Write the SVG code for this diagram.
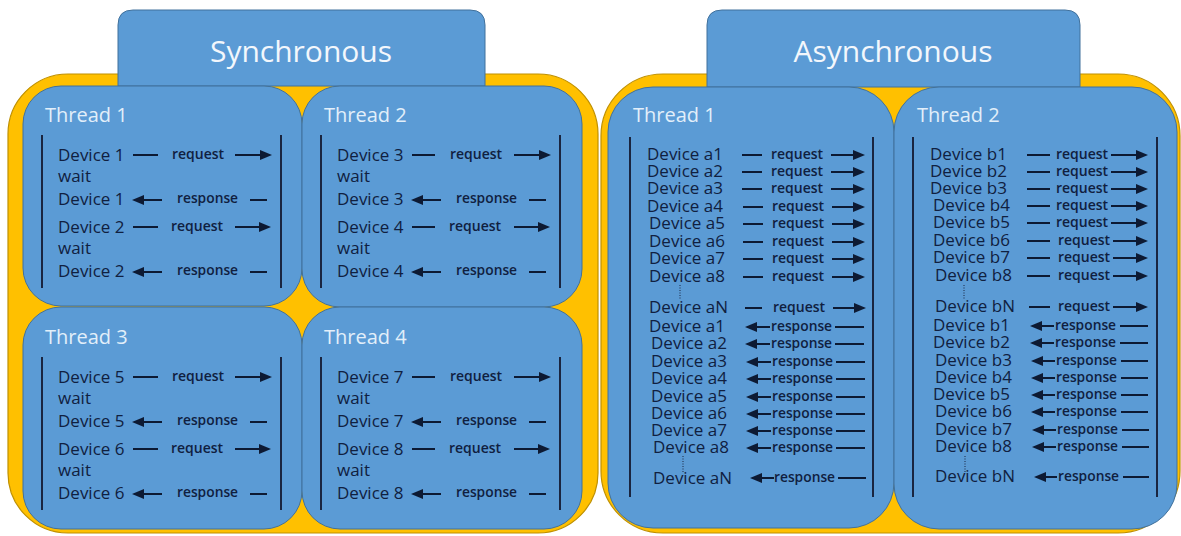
<svg xmlns="http://www.w3.org/2000/svg" width="1181" height="536" viewBox="0 0 1181 536">
<defs>
<marker id="ah" markerUnits="userSpaceOnUse" markerWidth="13" markerHeight="11" refX="1" refY="5" orient="auto">
<path d="M0,0 L12,5 L0,10 Z" fill="#0d1a33"/>
</marker>
<style>
text{font-family:'Open Sans','Liberation Sans',sans-serif}
.orange{fill:#ffc000;stroke:#bf9000;stroke-width:1.2}
.blue{fill:#5b9bd5;stroke:#41719c;stroke-width:1}
.title{font-size:30px;fill:#f3f7fc;text-anchor:middle}
.th{font-size:20px;fill:#e2effa}
.dev{font-size:17px;fill:#102040}
.rq{font-size:14px;font-weight:600;fill:#102040}
.rs{font-size:13.8px;font-weight:600;fill:#102040}
.ln{stroke:#0d1a33;stroke-width:2}
.arr{stroke:#0d1a33;stroke-width:2;marker-end:url(#ah)}
.vl{stroke:#1a2540;stroke-width:2}
.dot{stroke:#1a2540;stroke-width:1;stroke-dasharray:1 1.5}
</style>
</defs>
<rect width="1181" height="536" fill="#ffffff"/>

<g id="sync-panel">
<rect class="orange" x="8" y="74" width="590" height="459" rx="60"/>
</g>
<g id="sync-title">
<path class="blue" d="M118,86 V25 Q118,10 133,10 H470 Q485,10 485,25 V86 Z"/>
<text class="title" x="301" y="62">Synchronous</text>
</g>

<g id="sync-thread1">
<rect class="blue" x="23" y="86" width="279" height="220" rx="38"/>
<text class="th" x="45" y="122">Thread 1</text>
<line class="vl" x1="42" y1="135" x2="42" y2="288"/>
<line class="vl" x1="281" y1="135" x2="281" y2="288"/>
<text class="dev" x="58" y="161">Device 1</text>
<text class="rq" x="172" y="159">request</text>
<text class="dev" x="58" y="182">wait</text>
<text class="dev" x="58" y="205">Device 1</text>
<text class="rs" x="177" y="203">response</text>
<text class="dev" x="58" y="233">Device 2</text>
<text class="rq" x="171" y="231">request</text>
<text class="dev" x="58" y="254">wait</text>
<text class="dev" x="58" y="277">Device 2</text>
<text class="rs" x="177" y="275">response</text>
</g>

<g id="sync-thread2">
<rect class="blue" x="302" y="86" width="280" height="221" rx="38"/>
<text class="th" x="324" y="122">Thread 2</text>
<line class="vl" x1="321" y1="135" x2="321" y2="288"/>
<line class="vl" x1="560" y1="135" x2="560" y2="288"/>
<text class="dev" x="337" y="161">Device 3</text>
<text class="rq" x="450" y="159">request</text>
<text class="dev" x="337" y="182">wait</text>
<text class="dev" x="337" y="205">Device 3</text>
<text class="rs" x="456" y="203">response</text>
<text class="dev" x="337" y="233">Device 4</text>
<text class="rq" x="449" y="231">request</text>
<text class="dev" x="337" y="254">wait</text>
<text class="dev" x="337" y="277">Device 4</text>
<text class="rs" x="456" y="275">response</text>
</g>

<g id="sync-thread3">
<rect class="blue" x="23" y="307" width="279" height="222" rx="38"/>
<text class="th" x="45" y="344">Thread 3</text>
<line class="vl" x1="42" y1="357" x2="42" y2="510"/>
<line class="vl" x1="281" y1="357" x2="281" y2="510"/>
<text class="dev" x="58" y="383">Device 5</text>
<text class="rq" x="172" y="381">request</text>
<text class="dev" x="58" y="404">wait</text>
<text class="dev" x="58" y="427">Device 5</text>
<text class="rs" x="177" y="425">response</text>
<text class="dev" x="58" y="455">Device 6</text>
<text class="rq" x="171" y="453">request</text>
<text class="dev" x="58" y="476">wait</text>
<text class="dev" x="58" y="499">Device 6</text>
<text class="rs" x="177" y="497">response</text>
</g>

<g id="sync-thread4">
<rect class="blue" x="302" y="307" width="280" height="222" rx="38"/>
<text class="th" x="324" y="344">Thread 4</text>
<line class="vl" x1="321" y1="357" x2="321" y2="510"/>
<line class="vl" x1="560" y1="357" x2="560" y2="510"/>
<text class="dev" x="337" y="383">Device 7</text>
<text class="rq" x="450" y="381">request</text>
<text class="dev" x="337" y="404">wait</text>
<text class="dev" x="337" y="427">Device 7</text>
<text class="rs" x="456" y="425">response</text>
<text class="dev" x="337" y="455">Device 8</text>
<text class="rq" x="449" y="453">request</text>
<text class="dev" x="337" y="476">wait</text>
<text class="dev" x="337" y="499">Device 8</text>
<text class="rs" x="456" y="497">response</text>
</g>

<g id="async-panel">
<rect class="orange" x="601" y="74" width="579" height="459" rx="62"/>
</g>
<g id="async-title">
<path class="blue" d="M707,87 V25 Q707,10 722,10 H1065 Q1080,10 1080,25 V87 Z"/>
<text class="title" x="893" y="62">Asynchronous</text>
</g>

<g id="async-thread1">
<rect class="blue" x="608" y="87" width="286" height="441" rx="45"/>
<text class="th" x="633" y="122">Thread 1</text>
<line class="vl" x1="630" y1="137" x2="630" y2="497"/>
<line class="vl" x1="873" y1="137" x2="873" y2="497"/>
<text class="dev" x="647" y="160">Device a1</text>
<text class="dev" x="647" y="177">Device a2</text>
<text class="dev" x="647" y="194">Device a3</text>
<text class="dev" x="647" y="212">Device a4</text>
<text class="dev" x="649" y="229">Device a5</text>
<text class="dev" x="649" y="247">Device a6</text>
<text class="dev" x="649" y="264">Device a7</text>
<text class="dev" x="649" y="282">Device a8</text>
<text class="dev" x="649" y="313">Device aN</text>
<text class="rq" x="771" y="159">request</text>
<text class="rq" x="771" y="176">request</text>
<text class="rq" x="771" y="193">request</text>
<text class="rq" x="772" y="211">request</text>
<text class="rq" x="772" y="228">request</text>
<text class="rq" x="772" y="246">request</text>
<text class="rq" x="772" y="263">request</text>
<text class="rq" x="772" y="281">request</text>
<text class="rq" x="773" y="312">request</text>
<text class="dev" x="649" y="332">Device a1</text>
<text class="dev" x="651" y="349">Device a2</text>
<text class="dev" x="651" y="367">Device a3</text>
<text class="dev" x="651" y="384">Device a4</text>
<text class="dev" x="651" y="402">Device a5</text>
<text class="dev" x="651" y="419">Device a6</text>
<text class="dev" x="651" y="436">Device a7</text>
<text class="dev" x="653" y="453">Device a8</text>
<text class="dev" x="653" y="484">Device aN</text>
<text class="rs" x="771" y="331">response</text>
<text class="rs" x="771" y="348">response</text>
<text class="rs" x="772" y="366">response</text>
<text class="rs" x="772" y="383">response</text>
<text class="rs" x="772" y="401">response</text>
<text class="rs" x="772" y="418">response</text>
<text class="rs" x="772" y="435">response</text>
<text class="rs" x="772" y="452">response</text>
<text class="rs" x="774" y="482">response</text>
<line class="dot" x1="680" y1="285" x2="680" y2="300"/>
<line class="dot" x1="683" y1="456" x2="683" y2="472"/>
</g>

<g id="async-thread2">
<rect class="blue" x="894" y="87" width="283" height="442" rx="45"/>
<text class="th" x="917" y="122">Thread 2</text>
<line class="vl" x1="913" y1="137" x2="913" y2="497"/>
<line class="vl" x1="1157" y1="137" x2="1157" y2="497"/>
<text class="dev" x="930" y="160">Device b1</text>
<text class="dev" x="930" y="177">Device b2</text>
<text class="dev" x="930" y="194">Device b3</text>
<text class="dev" x="933" y="211">Device b4</text>
<text class="dev" x="933" y="228">Device b5</text>
<text class="dev" x="933" y="246">Device b6</text>
<text class="dev" x="933" y="263">Device b7</text>
<text class="dev" x="935" y="281">Device b8</text>
<text class="dev" x="935" y="312">Device bN</text>
<text class="rq" x="1056" y="159">request</text>
<text class="rq" x="1056" y="176">request</text>
<text class="rq" x="1056" y="193">request</text>
<text class="rq" x="1056" y="210">request</text>
<text class="rq" x="1056" y="227">request</text>
<text class="rq" x="1058" y="245">request</text>
<text class="rq" x="1058" y="262">request</text>
<text class="rq" x="1058" y="280">request</text>
<text class="rq" x="1058" y="311">request</text>
<text class="dev" x="933" y="331">Device b1</text>
<text class="dev" x="933" y="348">Device b2</text>
<text class="dev" x="935" y="366">Device b3</text>
<text class="dev" x="935" y="383">Device b4</text>
<text class="dev" x="933" y="400">Device b5</text>
<text class="dev" x="935" y="417">Device b6</text>
<text class="dev" x="935" y="435">Device b7</text>
<text class="dev" x="935" y="452">Device b8</text>
<text class="dev" x="935" y="482">Device bN</text>
<text class="rs" x="1055" y="330">response</text>
<text class="rs" x="1055" y="347">response</text>
<text class="rs" x="1056" y="365">response</text>
<text class="rs" x="1056" y="382">response</text>
<text class="rs" x="1056" y="399">response</text>
<text class="rs" x="1056" y="416">response</text>
<text class="rs" x="1057" y="434">response</text>
<text class="rs" x="1057" y="451">response</text>
<text class="rs" x="1058" y="481">response</text>
<line class="dot" x1="964" y1="285" x2="964" y2="300"/>
<line class="dot" x1="965" y1="456" x2="965" y2="472"/>
</g>

<g id="connectors">
<line class="ln" x1="133" y1="155" x2="158" y2="155"/>
<line class="arr" x1="235" y1="155" x2="261" y2="155"/>
<line class="arr" x1="162" y1="200" x2="143" y2="200"/>
<line class="ln" x1="250" y1="200" x2="267" y2="200"/>
<line class="ln" x1="133" y1="227" x2="158" y2="227"/>
<line class="arr" x1="235" y1="227" x2="260" y2="227"/>
<line class="arr" x1="162" y1="272" x2="143" y2="272"/>
<line class="ln" x1="250" y1="272" x2="267" y2="272"/>
<line class="ln" x1="412" y1="155" x2="435" y2="155"/>
<line class="arr" x1="514" y1="155" x2="540" y2="155"/>
<line class="arr" x1="441" y1="200" x2="422" y2="200"/>
<line class="ln" x1="529" y1="200" x2="546" y2="200"/>
<line class="ln" x1="412" y1="227" x2="435" y2="227"/>
<line class="arr" x1="514" y1="227" x2="539" y2="227"/>
<line class="arr" x1="441" y1="272" x2="422" y2="272"/>
<line class="ln" x1="529" y1="272" x2="546" y2="272"/>
<line class="ln" x1="133" y1="377" x2="158" y2="377"/>
<line class="arr" x1="235" y1="377" x2="261" y2="377"/>
<line class="arr" x1="162" y1="422" x2="143" y2="422"/>
<line class="ln" x1="250" y1="422" x2="267" y2="422"/>
<line class="ln" x1="133" y1="449" x2="158" y2="449"/>
<line class="arr" x1="235" y1="449" x2="260" y2="449"/>
<line class="arr" x1="162" y1="494" x2="143" y2="494"/>
<line class="ln" x1="250" y1="494" x2="267" y2="494"/>
<line class="ln" x1="412" y1="377" x2="435" y2="377"/>
<line class="arr" x1="514" y1="377" x2="540" y2="377"/>
<line class="arr" x1="441" y1="422" x2="422" y2="422"/>
<line class="ln" x1="529" y1="422" x2="546" y2="422"/>
<line class="ln" x1="412" y1="449" x2="435" y2="449"/>
<line class="arr" x1="514" y1="449" x2="539" y2="449"/>
<line class="arr" x1="441" y1="494" x2="422" y2="494"/>
<line class="ln" x1="529" y1="494" x2="546" y2="494"/>
<line class="ln" x1="742" y1="155" x2="762" y2="155"/><line class="arr" x1="831" y1="155" x2="854" y2="155"/>
<line class="ln" x1="742" y1="172" x2="762" y2="172"/><line class="arr" x1="831" y1="172" x2="854" y2="172"/>
<line class="ln" x1="742" y1="189" x2="762" y2="189"/><line class="arr" x1="831" y1="189" x2="854" y2="189"/>
<line class="ln" x1="743" y1="207" x2="763" y2="207"/><line class="arr" x1="832" y1="207" x2="854" y2="207"/>
<line class="ln" x1="743" y1="224" x2="763" y2="224"/><line class="arr" x1="832" y1="224" x2="854" y2="224"/>
<line class="ln" x1="743" y1="242" x2="763" y2="242"/><line class="arr" x1="832" y1="242" x2="854" y2="242"/>
<line class="ln" x1="743" y1="259" x2="763" y2="259"/><line class="arr" x1="832" y1="259" x2="854" y2="259"/>
<line class="ln" x1="743" y1="277" x2="763" y2="277"/><line class="arr" x1="832" y1="277" x2="854" y2="277"/>
<line class="ln" x1="745" y1="308" x2="762" y2="308"/><line class="arr" x1="833" y1="308" x2="855" y2="308"/>
<line class="arr" x1="770" y1="327" x2="756" y2="327"/><line class="ln" x1="835" y1="327" x2="864" y2="327"/>
<line class="arr" x1="770" y1="344" x2="756" y2="344"/><line class="ln" x1="835" y1="344" x2="864" y2="344"/>
<line class="arr" x1="771" y1="362" x2="757" y2="362"/><line class="ln" x1="836" y1="362" x2="865" y2="362"/>
<line class="arr" x1="771" y1="379" x2="757" y2="379"/><line class="ln" x1="836" y1="379" x2="865" y2="379"/>
<line class="arr" x1="771" y1="397" x2="757" y2="397"/><line class="ln" x1="836" y1="397" x2="865" y2="397"/>
<line class="arr" x1="771" y1="414" x2="757" y2="414"/><line class="ln" x1="836" y1="414" x2="865" y2="414"/>
<line class="arr" x1="771" y1="431" x2="757" y2="431"/><line class="ln" x1="836" y1="431" x2="865" y2="431"/>
<line class="arr" x1="771" y1="448" x2="757" y2="448"/><line class="ln" x1="836" y1="448" x2="865" y2="448"/>
<line class="arr" x1="774" y1="478" x2="761" y2="478"/><line class="ln" x1="838" y1="478" x2="866" y2="478"/>
<line class="ln" x1="1027" y1="155" x2="1050" y2="155"/><line class="arr" x1="1111" y1="155" x2="1137" y2="155"/>
<line class="ln" x1="1027" y1="172" x2="1050" y2="172"/><line class="arr" x1="1111" y1="172" x2="1137" y2="172"/>
<line class="ln" x1="1027" y1="189" x2="1050" y2="189"/><line class="arr" x1="1111" y1="189" x2="1137" y2="189"/>
<line class="ln" x1="1027" y1="206" x2="1050" y2="206"/><line class="arr" x1="1111" y1="206" x2="1137" y2="206"/>
<line class="ln" x1="1027" y1="223" x2="1050" y2="223"/><line class="arr" x1="1111" y1="223" x2="1137" y2="223"/>
<line class="ln" x1="1027" y1="241" x2="1050" y2="241"/><line class="arr" x1="1113" y1="241" x2="1137" y2="241"/>
<line class="ln" x1="1027" y1="258" x2="1050" y2="258"/><line class="arr" x1="1113" y1="258" x2="1137" y2="258"/>
<line class="ln" x1="1027" y1="276" x2="1050" y2="276"/><line class="arr" x1="1113" y1="276" x2="1137" y2="276"/>
<line class="ln" x1="1029" y1="307" x2="1050" y2="307"/><line class="arr" x1="1113" y1="307" x2="1137" y2="307"/>
<line class="arr" x1="1054" y1="326" x2="1041" y2="326"/><line class="ln" x1="1120" y1="326" x2="1148" y2="326"/>
<line class="arr" x1="1054" y1="343" x2="1041" y2="343"/><line class="ln" x1="1120" y1="343" x2="1148" y2="343"/>
<line class="arr" x1="1055" y1="361" x2="1042" y2="361"/><line class="ln" x1="1121" y1="361" x2="1148" y2="361"/>
<line class="arr" x1="1055" y1="378" x2="1042" y2="378"/><line class="ln" x1="1121" y1="378" x2="1148" y2="378"/>
<line class="arr" x1="1055" y1="395" x2="1042" y2="395"/><line class="ln" x1="1121" y1="395" x2="1148" y2="395"/>
<line class="arr" x1="1055" y1="412" x2="1042" y2="412"/><line class="ln" x1="1121" y1="412" x2="1148" y2="412"/>
<line class="arr" x1="1056" y1="430" x2="1043" y2="430"/><line class="ln" x1="1122" y1="430" x2="1149" y2="430"/>
<line class="arr" x1="1056" y1="447" x2="1043" y2="447"/><line class="ln" x1="1122" y1="447" x2="1149" y2="447"/>
<line class="arr" x1="1057" y1="477" x2="1045" y2="477"/><line class="ln" x1="1123" y1="477" x2="1149" y2="477"/>
</g>
</svg>
